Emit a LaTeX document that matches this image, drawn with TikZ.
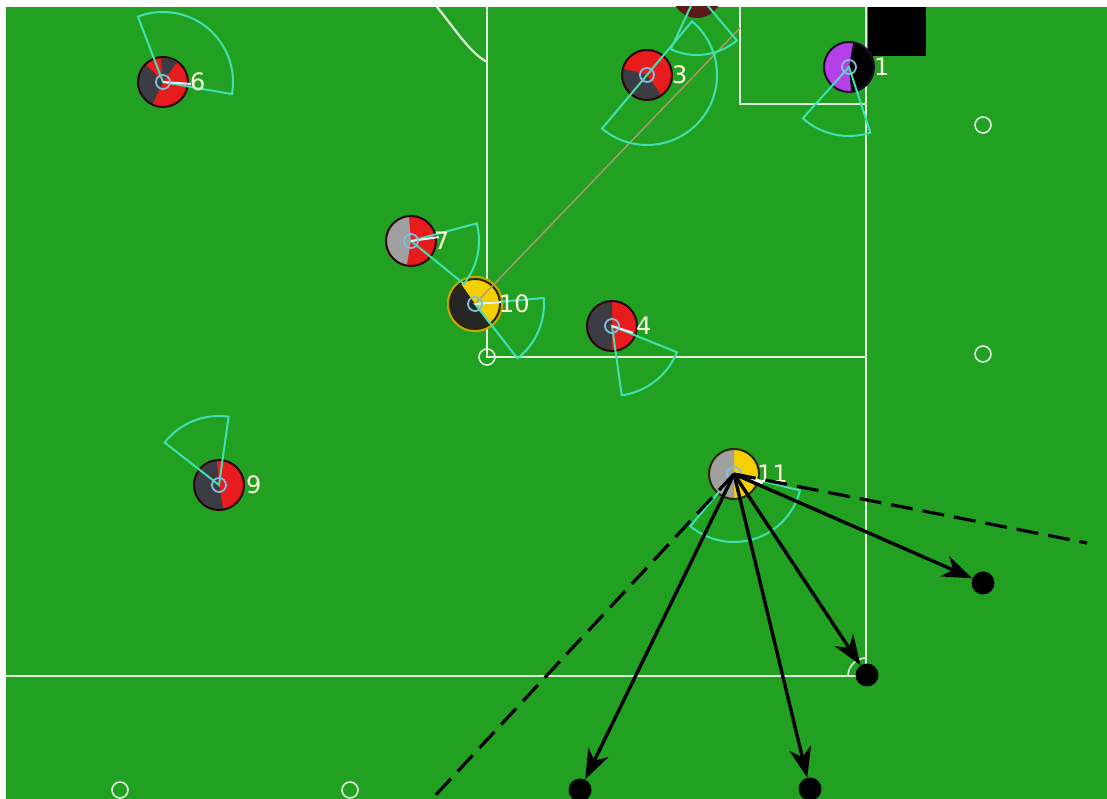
\documentclass[tikz,border=0pt]{standalone}
\usepackage{fontspec}
\setmainfont{DejaVu Sans}
\usepackage{tikz}
\usetikzlibrary{arrows.meta, positioning}
\definecolor{pitch}{RGB}{33,160,33}
\definecolor{plred}{RGB}{232,28,28}
\definecolor{pldark}{RGB}{60,60,68}
\definecolor{plgray}{RGB}{160,160,160}
\definecolor{plyellow}{RGB}{245,208,0}
\definecolor{plpurple}{RGB}{181,64,232}
\definecolor{plmaroon}{RGB}{90,26,26}
\definecolor{conecol}{RGB}{64,224,176}
\definecolor{eyecol}{RGB}{130,190,225}
\definecolor{passcol}{RGB}{176,152,112}
% player disc: centre, base colour, slice colour, slice start, slice end
\newcommand{\pie}[5]{%
  \fill[#2] (#1) circle[radius=25pt];
  \fill[#3] (#1) -- ++(#4:25pt) arc[start angle=#4,end angle=#5,radius=25pt] -- cycle;
  \draw[black!55!#2!40!black,line width=2pt] (#1) circle[radius=25pt];}
% view cone: centre, radius, start, end
\newcommand{\cone}[4]{%
  \draw[conecol,line width=2pt] (#1) -- ++(#3:#2pt) arc[start angle=#3,end angle=#4,radius=#2pt] -- cycle;}

\begin{document}
\begin{tikzpicture}[x=1pt,y=1pt,
    fieldline/.style={white!85!pitch,line width=2.2pt},
    flag/.style={white!85!pitch,line width=1.6pt},
    eye/.style={eyecol,line width=1.8pt},
    body/.style={white!80!eyecol,line width=2pt},
    plnum/.style={text=white!88!yellow,inner sep=0pt,font=\fontsize{24}{24}\selectfont},
    target/.style={circle,fill=black,inner sep=0pt,minimum size=23pt},
    kick/.style={-{Stealth[length=30pt,width=22pt,inset=9pt]},black,line width=3.4pt},
    reach/.style={black,line width=3.2pt,dash pattern=on 22pt off 10pt}]
  \useasboundingbox (0,0) rectangle (1107,799);
  \fill[white] (0,0) rectangle (1107,799);
  \fill[pitch] (6,0) rectangle (1107,792);
  \begin{scope}
  \clip (6,0) rectangle (1107,792);

  % field markings
  \draw[fieldline] (487,792) -- (487,442) -- (866,442);
  \draw[fieldline] (866,792) -- (866,123) -- (6,123);
  \draw[fieldline] (740,792) -- (740,695) -- (866,695);
  \draw[fieldline] (437,792) .. controls (455,770) and (470,746) .. (487,737);
  \draw[flag] (866,141) arc[start angle=90,end angle=180,radius=18pt];
  \draw[flag] (868,751) arc[start angle=90,end angle=0,radius=8pt];
  \fill[black] (868,792) rectangle (926,743);
  \foreach \fx/\fy in {983/674, 983/445, 120/9, 350/9, 487/442}
    \draw[flag] (\fx,\fy) circle[radius=8pt];

  % players
  \coordinate (p6) at (163,717);
  \coordinate (p3) at (647,724);
  \coordinate (p1) at (849,732);
  \coordinate (p7) at (411,558);
  \coordinate (p10) at (475,495);
  \coordinate (p4) at (612,473);
  \coordinate (p9) at (219,314);
  \coordinate (p11) at (734,325);
  \coordinate (ptop) at (697,806);

  \fill[plmaroon] (ptop) circle[radius=25pt];
  \pie{p6}{plred}{pldark}{135}{245}
  \fill[pldark] (p6) -- ++(55:24pt) arc[start angle=55,end angle=95,radius=24pt] -- cycle;
  \pie{p3}{plred}{pldark}{165}{305}
  \pie{p1}{plpurple}{black}{-85}{80}
  \pie{p7}{plred}{plgray}{95}{260}
  \draw[plyellow!80!black,line width=2.4pt] (p10) circle[radius=27pt];
  \pie{p10}{plyellow}{black!85}{125}{305}
  \pie{p4}{plred}{pldark}{90}{270}
  \pie{p9}{plred}{pldark}{95}{280}
  \pie{p11}{plyellow}{plgray}{90}{270}

  % pass line
  \coordinate (goalpt) at (740,771);
  \draw[passcol,line width=1.4pt] (p10) -- (goalpt);

  % view cones
  \cone{p6}{70}{-10}{111}
  \cone{p3}{70}{-130}{50}
  \cone{p1}{69}{-132}{-72}
  \cone{p7}{68}{-39}{15}
  \cone{p10}{69}{-52}{5}
  \cone{p4}{70}{-82}{-22}
  \cone{p9}{69}{82}{142}
  \cone{p11}{68}{-130}{-14}
  \cone{ptop}{62}{-115}{-50}

  % body direction and eyes
  \draw[body] (p6) -- ++(-4:28pt);
  \draw[body] (p7) -- ++(8:28pt);
  \draw[body] (p10) -- ++(4:26pt);
  \draw[body] (p4) -- ++(-18:22pt);
  \draw[white,line width=4pt] (p11) -- ++(-17:30pt);
  \foreach \p in {p6,p3,p1,p7,p10,p4,p9,p11}
    \draw[eye] (\p) circle[radius=7pt];

  % numbers
  \node[plnum,right=27pt of p6] (l6) {6};
  \node[plnum,right=25pt of p3] (l3) {3};
  \node[plnum,right=25pt of p1] (l1) {1};
  \node[plnum,right=23pt of p7] (l7) {7};
  \node[plnum,right=24pt of p10] (l10) {10};
  \node[plnum,right=24pt of p4] (l4) {4};
  \node[plnum,right=27pt of p9] (l9) {9};
  \node[plnum,right=23pt of p11] (l11) {11};

  % kick targets
  \node[target] (t1) at (983,216) {};
  \node[target] (t2) at (867,124) {};
  \node[target] (t3) at (810,10) {};
  \node[target] (t4) at (580,9) {};
  \coordinate (e1) at (1087,256);
  \coordinate (e2) at (432,0);
  \draw[reach] (p11) -- (e1);
  \draw[reach] (p11) -- (e2);
  \foreach \t in {t1,t2,t3,t4}
    \draw[kick] (p11) -- (\t);
  \end{scope}
\end{tikzpicture}
\end{document}
